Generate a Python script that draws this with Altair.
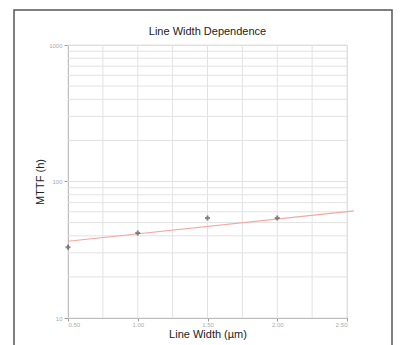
import altair as alt
import pandas as pd

# data
line_width = [0.5, 1.0, 1.5, 2.0]
mttf = [33, 42, 54, 54]
fit_x = [0.5, 2.55]
fit_y = [36.5, 61]

x_major = [0.5, 1.0, 1.5, 2.0, 2.5]
x_grid = [0.5 + 0.25 * i for i in range(9)]
y_major = [10, 100, 1000]
y_grid = [m * d for d in (10, 100) for m in range(1, 10)] + [1000]

pts = pd.DataFrame({"w": line_width, "t": mttf})
fit = pd.DataFrame({"w": fit_x, "t": fit_y})

xs = alt.Scale(domain=[0.5, 2.5], nice=False, zero=False)
ys = alt.Scale(type="log", domain=[10, 1000], nice=False)

x_axis = alt.Axis(values=x_major, title="Line Width (µm)", grid=False, format=".2f",
                  labelFontSize=6, labelColor="#aaaaaa", tickColor="#999999",
                  domainColor="#999999", tickSize=3, labelPadding=0,
                  titleFontSize=11, titleFontWeight="normal", titleColor="#222222",
                  titlePadding=1)
y_axis = alt.Axis(values=y_major, title="MTTF (h)", grid=False, format="d",
                  labelFontSize=6, labelColor="#aaaaaa", tickColor="#999999",
                  domainColor="#999999", tickSize=4,
                  titleFontSize=11, titleFontWeight="normal", titleColor="#222222",
                  titlePadding=3)

grid_x = alt.Chart(pd.DataFrame({"w": x_grid})).mark_rule(color="#e2e2e2", strokeWidth=1).encode(
    x=alt.X("w:Q", scale=xs, axis=x_axis)
)
grid_y = alt.Chart(pd.DataFrame({"t": y_grid})).mark_rule(color="#e2e2e2", strokeWidth=1).encode(
    y=alt.Y("t:Q", scale=ys, axis=y_axis)
)

fit_line = alt.Chart(fit).mark_line(color="#f2a8a0", strokeWidth=1.2, clip=False).encode(
    x=alt.X("w:Q", scale=xs),
    y=alt.Y("t:Q", scale=ys),
)

points = alt.Chart(pts).mark_point(shape="cross", filled=True, color="#555555", size=25).encode(
    x=alt.X("w:Q", scale=xs), y=alt.Y("t:Q", scale=ys)
)

frame = alt.Chart(pd.DataFrame({"a": [0]})).mark_rect(
    fill=None, stroke="#555555", strokeWidth=1.5, clip=False
).encode(
    x=alt.value(-54), x2=alt.value(324), y=alt.value(-35), y2=alt.value(360)
)

chart = alt.layer(grid_x, grid_y, fit_line, points, frame).properties(
    width=279, height=273,
    autosize=alt.AutoSizeParams(type="none"),
    padding={"left": 60, "top": 37, "right": 51, "bottom": 30},
    title=alt.Title("Line Width Dependence", fontSize=11, fontWeight="normal",
                    color="#222222", offset=-28),
).configure_view(stroke="#aaaaaa").configure(font="Liberation Sans")

chart.save("out.html", embed_options={"renderer": "svg", "actions": False})
